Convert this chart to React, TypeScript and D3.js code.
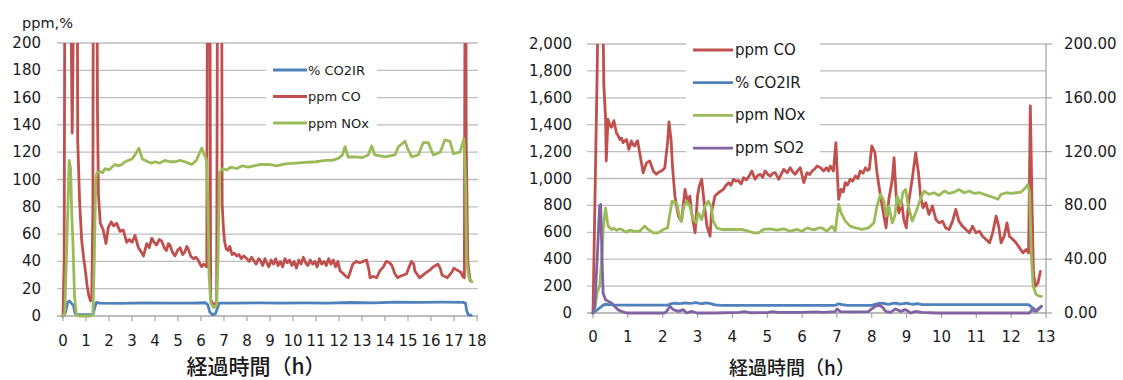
import React from "react";
import * as d3 from "d3";

type Pt = [number, number];

// ---------- Left chart: hours vs ppm / % ----------
const leftXTicks = d3.range(0, 19);
const leftYTicks = [0, 20, 40, 60, 80, 100, 120, 140, 160, 180, 200];

const leftCO2: Pt[] = [
  [0, 0], [0.1, 2], [0.2, 10], [0.28, 11], [0.38, 9], [0.45, 8], [0.52, 2], [0.6, 1], [1.0, 1], [1.3, 1],
  [1.38, 6], [1.45, 10], [1.6, 9.5], [2.5, 9.3], [3.5, 9.6], [4.5, 9.4], [5.5, 9.5], [6.2, 9.7], [6.3, 8],
  [6.38, 3], [6.5, 1], [6.62, 1.5], [6.72, 6], [6.8, 9.5], [7.5, 9.4], [8.5, 9.6], [9.5, 9.4], [10.5, 9.6],
  [11.5, 9.5], [12.5, 9.9], [13.5, 9.6], [14.5, 10.2], [15.5, 10], [16.5, 10.1], [17.4, 10], [17.5, 9.5],
  [17.55, 4], [17.62, 1], [17.75, 0.5],
];

const leftCO: Pt[] = [
  [0, 0], [0.05, 40], [0.1, 400], [0.32, 400], [0.36, 200], [0.4, 134], [0.44, 200], [0.47, 400], [0.6, 400],
  [0.64, 129], [0.72, 85], [0.81, 56], [0.9, 42], [0.96, 35], [1.05, 22], [1.12, 15], [1.2, 11], [1.25, 14],
  [1.3, 80], [1.33, 400], [1.44, 400], [1.5, 150], [1.54, 89], [1.62, 68], [1.75, 63], [1.87, 53], [1.97, 65],
  [2.1, 69], [2.2, 66], [2.33, 68], [2.48, 62], [2.62, 63], [2.77, 54], [2.88, 56], [3.0, 54], [3.13, 59],
  [3.28, 50], [3.4, 47], [3.5, 44], [3.64, 53], [3.75, 50], [3.86, 57], [3.96, 54], [4.07, 52], [4.18, 56],
  [4.29, 55], [4.4, 50], [4.5, 48], [4.58, 53], [4.65, 52], [4.75, 47], [4.87, 44], [4.98, 48], [5.09, 50],
  [5.2, 45], [5.3, 47], [5.38, 51], [5.45, 49], [5.55, 44], [5.67, 42], [5.78, 43], [5.88, 41], [5.96, 38],
  [6.03, 36], [6.1, 38], [6.17, 37], [6.25, 36], [6.3, 400], [6.37, 400], [6.42, 12], [6.55, 8], [6.68, 10],
  [6.74, 400], [6.88, 400], [6.92, 82], [6.98, 63], [7.03, 54], [7.1, 49], [7.18, 48], [7.25, 51], [7.35, 45],
  [7.45, 46], [7.55, 44], [7.65, 45], [7.75, 42], [7.85, 44], [7.99, 42], [8.1, 40], [8.2, 43], [8.28, 41],
  [8.4, 38], [8.5, 42], [8.57, 41], [8.68, 37], [8.78, 42], [8.86, 39], [8.95, 36], [9.05, 41], [9.15, 38],
  [9.25, 42], [9.35, 37], [9.45, 40], [9.55, 36], [9.65, 42], [9.75, 39], [9.85, 41], [9.95, 37], [10.05, 40],
  [10.15, 35], [10.25, 41], [10.35, 38], [10.45, 43], [10.55, 39], [10.65, 37], [10.75, 41], [10.85, 38],
  [10.95, 40], [11.05, 36], [11.15, 42], [11.25, 38], [11.35, 40], [11.45, 37], [11.55, 42], [11.65, 38],
  [11.75, 41], [11.85, 36], [11.95, 40], [12.05, 33], [12.19, 31], [12.3, 29], [12.4, 28], [12.5, 33],
  [12.6, 38], [12.75, 40], [12.9, 39], [13.05, 40], [13.2, 41], [13.3, 34], [13.35, 28], [13.5, 29],
  [13.64, 28], [13.77, 33], [13.93, 36], [14.05, 40], [14.2, 39], [14.3, 37], [14.43, 31], [14.55, 28],
  [14.65, 29], [14.8, 30], [14.94, 31], [15.05, 36], [15.15, 40], [15.25, 38], [15.3, 33], [15.42, 30],
  [15.5, 28], [15.65, 30], [15.8, 32], [15.9, 33], [16.1, 36], [16.2, 37], [16.3, 38], [16.4, 35],
  [16.48, 30], [16.6, 29], [16.7, 28], [16.8, 30], [16.9, 32], [17.0, 35], [17.1, 34], [17.2, 33], [17.3, 32],
  [17.38, 29], [17.45, 28], [17.5, 400], [17.53, 130], [17.6, 40], [17.7, 26],
];

const leftNOx: Pt[] = [
  [0, 0], [0.08, 2], [0.18, 60], [0.27, 114], [0.33, 108], [0.38, 75], [0.44, 50], [0.5, 15], [0.58, 1],
  [0.7, 0], [1.2, 0], [1.3, 1], [1.36, 40], [1.42, 100], [1.48, 105], [1.6, 106], [1.72, 105], [1.83, 108],
  [2.0, 107], [2.12, 109], [2.26, 111], [2.4, 110], [2.55, 111], [2.7, 113], [2.84, 114], [3.0, 115],
  [3.13, 118], [3.3, 123], [3.45, 115], [3.7, 113], [3.85, 112], [4.0, 113], [4.2, 112], [4.43, 114],
  [4.65, 113], [4.87, 113], [5.1, 114], [5.3, 113], [5.45, 112], [5.6, 111], [5.8, 114], [5.95, 120],
  [6.03, 123], [6.15, 118], [6.25, 114], [6.3, 80], [6.35, 30], [6.42, 10], [6.55, 6], [6.68, 8], [6.74, 40],
  [6.8, 105], [6.95, 108], [7.1, 107], [7.3, 109], [7.55, 108], [7.8, 110], [8.05, 109], [8.3, 110],
  [8.6, 111], [8.96, 111], [9.3, 110], [9.65, 111.5], [10.1, 112], [10.52, 112.5], [11.0, 113], [11.4, 114],
  [11.7, 114], [11.97, 115.5], [12.15, 118], [12.26, 124], [12.4, 116.5], [12.7, 116.5], [13.0, 116],
  [13.27, 118], [13.42, 124.5], [13.56, 118], [14.0, 116.5], [14.43, 118], [14.58, 124], [14.87, 128],
  [15.0, 122], [15.16, 116.5], [15.45, 118], [15.66, 127], [15.88, 127], [16.1, 118], [16.4, 120],
  [16.6, 129], [16.83, 128], [16.97, 119], [17.26, 120], [17.43, 130], [17.5, 100], [17.55, 40],
  [17.65, 28], [17.78, 25],
];

// ---------- Right chart: hours vs ppm (left axis) and % (right axis) ----------
const rightXTicks = d3.range(0, 14);
const rightYTicks = [0, 200, 400, 600, 800, 1000, 1200, 1400, 1600, 1800, 2000];
const rightY2Ticks = [0, 40, 80, 120, 160, 200];

const rightCO: Pt[] = [
  [0, 0], [0.04, 600], [0.08, 1200], [0.12, 1800], [0.15, 2400], [0.28, 2400], [0.31, 1700], [0.36, 1453],
  [0.38, 1130], [0.43, 1440], [0.48, 1400], [0.53, 1380], [0.6, 1430], [0.67, 1340], [0.72, 1320],
  [0.77, 1290], [0.82, 1300], [0.86, 1267], [0.96, 1290], [1.03, 1217], [1.1, 1280], [1.15, 1250],
  [1.2, 1242], [1.24, 1270], [1.28, 1280], [1.34, 1192], [1.44, 1043], [1.5, 1090], [1.54, 1118],
  [1.63, 1130], [1.73, 1056], [1.82, 1031], [1.9, 1050], [1.97, 1056], [2.06, 1080], [2.14, 1267],
  [2.18, 1420], [2.24, 1290], [2.28, 1093], [2.35, 870], [2.45, 720], [2.54, 683], [2.64, 919], [2.72, 820],
  [2.78, 870], [2.83, 745], [2.93, 596], [3.0, 870], [3.05, 944], [3.12, 994], [3.2, 795], [3.27, 646],
  [3.36, 571], [3.4, 745], [3.5, 870], [3.6, 894], [3.74, 919], [3.82, 950], [3.89, 969], [3.96, 950],
  [4.03, 994], [4.1, 980], [4.17, 985], [4.25, 960], [4.32, 1006], [4.4, 990], [4.46, 1010], [4.56, 1056],
  [4.65, 994], [4.72, 1020], [4.8, 1031], [4.87, 1010], [4.94, 1056], [5.02, 1030], [5.09, 1018],
  [5.16, 1040], [5.23, 1043], [5.33, 994], [5.4, 1030], [5.47, 1068], [5.57, 1043], [5.66, 1080],
  [5.73, 1050], [5.8, 1031], [5.88, 1060], [5.95, 1080], [6.05, 969], [6.14, 1043], [6.22, 1030],
  [6.29, 1056], [6.36, 1070], [6.43, 1093], [6.53, 1080], [6.62, 1056], [6.7, 1080], [6.76, 1056],
  [6.81, 1093], [6.9, 1056], [6.97, 1267], [7.0, 1093], [7.05, 845], [7.12, 919], [7.18, 900], [7.24, 969],
  [7.3, 950], [7.38, 994], [7.45, 980], [7.53, 1018], [7.6, 1000], [7.67, 1056], [7.75, 1040], [7.82, 1080],
  [7.88, 1060], [7.93, 1068], [8.0, 1242], [8.09, 1192], [8.15, 1043], [8.25, 870], [8.35, 720],
  [8.41, 633], [8.49, 845], [8.59, 994], [8.64, 1155], [8.7, 870], [8.78, 745], [8.86, 820], [8.92, 695],
  [8.99, 633], [9.07, 845], [9.16, 994], [9.26, 1192], [9.34, 1043], [9.4, 870], [9.47, 782], [9.55, 820],
  [9.64, 733], [9.74, 795], [9.84, 695], [9.93, 670], [10.03, 683], [10.12, 633], [10.22, 621],
  [10.32, 683], [10.41, 770], [10.5, 683], [10.6, 646], [10.7, 621], [10.8, 596], [10.89, 646],
  [10.99, 596], [11.09, 608], [11.18, 571], [11.28, 546], [11.38, 522], [11.47, 596], [11.57, 720],
  [11.64, 646], [11.71, 522], [11.8, 571], [11.88, 670], [11.95, 571], [12.05, 546], [12.14, 522],
  [12.24, 484], [12.34, 447], [12.43, 472], [12.5, 447], [12.55, 1540], [12.6, 800], [12.64, 298],
  [12.7, 199], [12.77, 224], [12.84, 310],
];

// CO2 in percent, read against the right-hand axis
const rightCO2: Pt[] = [
  [0, 0], [0.1, 2], [0.25, 5], [0.34, 6.5], [0.45, 6.2], [0.6, 6], [1.0, 5.8], [1.5, 5.8], [2.0, 5.8],
  [2.15, 5.9], [2.25, 7], [2.35, 7.4], [2.45, 7], [2.55, 7.2], [2.65, 7.6], [2.75, 7.1], [2.85, 7.3],
  [2.95, 7.8], [3.05, 7.2], [3.15, 6.9], [3.25, 7.5], [3.35, 7.2], [3.5, 6], [3.7, 5.7], [4.5, 5.6],
  [5.5, 5.6], [6.5, 5.6], [6.95, 5.7], [7.05, 6.8], [7.15, 6.2], [7.3, 5.7], [8.0, 5.7], [8.1, 6.5],
  [8.2, 7.2], [8.3, 7.4], [8.4, 6.8], [8.5, 6.4], [8.6, 7.1], [8.7, 7.3], [8.8, 6.6], [8.9, 6.9], [9.0, 7.3],
  [9.1, 6.8], [9.2, 6.5], [9.3, 7.0], [9.45, 6.3], [10.0, 6.2], [11.0, 6.3], [12.0, 6.2], [12.5, 6.2],
  [12.58, 4.5], [12.65, 1.5], [12.75, 2.5], [12.85, 4.5],
];

const rightNOx: Pt[] = [
  [0, 0], [0.05, 30], [0.12, 150], [0.19, 200], [0.25, 400], [0.3, 650], [0.36, 782], [0.43, 646],
  [0.53, 621], [0.6, 630], [0.67, 615], [0.75, 625], [0.82, 621], [0.9, 610], [0.96, 601], [1.03, 615],
  [1.1, 616], [1.18, 605], [1.25, 608], [1.34, 608], [1.42, 630], [1.49, 646], [1.58, 621], [1.65, 610],
  [1.73, 596], [1.87, 596], [2.02, 621], [2.14, 633], [2.21, 745], [2.27, 832], [2.4, 820], [2.48, 720],
  [2.54, 683], [2.61, 794], [2.69, 832], [2.78, 794], [2.88, 695], [2.96, 670], [3.02, 745], [3.12, 695],
  [3.21, 794], [3.31, 832], [3.39, 794], [3.45, 683], [3.55, 633], [3.69, 621], [3.89, 621], [4.08, 621],
  [4.27, 621], [4.46, 608], [4.61, 596], [4.75, 596], [4.89, 621], [5.09, 626], [5.28, 616], [5.47, 626],
  [5.66, 608], [5.85, 621], [6.0, 608], [6.14, 633], [6.29, 621], [6.38, 621], [6.48, 633], [6.57, 633],
  [6.71, 608], [6.86, 646], [6.95, 608], [7.05, 807], [7.12, 745], [7.24, 683], [7.38, 646], [7.53, 633],
  [7.72, 621], [7.91, 633], [8.06, 670], [8.15, 795], [8.25, 882], [8.35, 832], [8.41, 720], [8.49, 795],
  [8.59, 670], [8.66, 720], [8.73, 869], [8.83, 795], [8.89, 894], [8.97, 919], [9.05, 795], [9.16, 683],
  [9.26, 745], [9.36, 820], [9.43, 869], [9.51, 907], [9.64, 882], [9.79, 894], [9.93, 874], [10.08, 907],
  [10.22, 889], [10.37, 899], [10.5, 919], [10.65, 894], [10.8, 907], [10.94, 889], [11.09, 894],
  [11.23, 882], [11.38, 869], [11.52, 857], [11.62, 845], [11.71, 882], [11.86, 894], [12.0, 889],
  [12.14, 894], [12.29, 899], [12.41, 931], [12.48, 956], [12.53, 894], [12.58, 422], [12.63, 199],
  [12.72, 137], [12.82, 124], [12.87, 124],
];

const rightSO2: Pt[] = [
  [0, 0], [0.05, 50], [0.12, 400], [0.19, 795], [0.22, 807], [0.26, 400], [0.29, 149], [0.36, 99],
  [0.43, 88], [0.53, 75], [0.62, 50], [0.72, 25], [0.82, 12], [0.96, 0], [1.5, 0], [2.05, 0], [2.11, 12],
  [2.21, 50], [2.3, 25], [2.45, 12], [2.59, 25], [2.69, 0], [2.83, 12], [2.98, 0], [3.5, 0], [4.2, 5],
  [4.35, 10], [4.5, 2], [5.0, 3], [5.15, 10], [5.3, 4], [6.0, 5], [6.4, 8], [6.6, 5], [6.95, 10], [7.0, 30],
  [7.1, 10], [7.5, 8], [7.9, 10], [8.0, 30], [8.1, 50], [8.2, 60], [8.3, 45], [8.4, 12], [8.54, 5],
  [8.68, 30], [8.83, 12], [8.97, 25], [9.12, 0], [9.26, 12], [9.45, 5], [9.84, 0], [12.53, 0], [12.63, 37],
  [12.72, 12], [12.87, 50],
];

const COLORS = {
  co2: "#4F81BD",
  co: "#C0504D",
  nox: "#9BBB59",
  so2: "#8064A2",
};

const GRID = "#BDBDBD";
const AXIS = "#A6A6A6";
const TEXT = "#1a1a1a";
const NUM_FONT = "'DejaVu Sans', sans-serif";
const JP_FONT = "'Noto Sans CJK JP', sans-serif";

function LeftChart() {
  const x = d3.scaleLinear().domain([0, 18]).range([63, 477]);
  const y = d3.scaleLinear().domain([0, 200]).range([316, 43]);
  const line = d3.line<Pt>().x((d) => x(d[0])).y((d) => y(d[1]));
  const series = [
    { name: "% CO2IR", data: leftCO2, color: COLORS.co2 },
    { name: "ppm CO", data: leftCO, color: COLORS.co },
    { name: "ppm NOx", data: leftNOx, color: COLORS.nox },
  ];
  return (
    <g>
      <defs>
        <clipPath id="clipL">
          <rect x={55} y={y(200)} width={440} height={y(0) - y(200) + 6} />
        </clipPath>
      </defs>
      {leftYTicks.filter((v) => v > 0).map((v) => (
        <line key={v} x1={57} x2={478} y1={y(v)} y2={y(v)} stroke={GRID} strokeWidth={1.3} />
      ))}
      <line x1={57} x2={478} y1={y(0)} y2={y(0)} stroke={AXIS} strokeWidth={1.3} />
      {leftXTicks.map((t) => (
        <line key={t} x1={x(t)} x2={x(t)} y1={y(0)} y2={y(0) + 5} stroke={AXIS} strokeWidth={1.2} />
      ))}
      {leftYTicks.map((v) => (
        <text key={v} x={41} y={y(v)} textAnchor="end" dominantBaseline="central"
          fontFamily={NUM_FONT} fontSize={15} fill={TEXT}>{v}</text>
      ))}
      {leftXTicks.map((t) => (
        <text key={t} x={x(t)} y={341} textAnchor="middle" dominantBaseline="central"
          fontFamily={NUM_FONT} fontSize={15} fill={TEXT}>{t}</text>
      ))}
      <text x={22} y={23} dominantBaseline="central" fontFamily={NUM_FONT} fontSize={14.5} fill={TEXT}>ppm,%</text>
      <g clipPath="url(#clipL)">
        {series.map((s) => (
          <path key={s.name} d={line(s.data) || ""} fill="none" stroke={s.color} strokeWidth={2.8}
            strokeLinejoin="round" strokeLinecap="round" />
        ))}
      </g>
      <rect x={266} y={58} width={111} height={78} fill="#fff" />
      {series.map((s, i) => (
        <g key={s.name}>
          <line x1={273} x2={307} y1={70 + i * 26.5} y2={70 + i * 26.5} stroke={s.color} strokeWidth={2.8} />
          <text x={308} y={70 + i * 26.5} dominantBaseline="central" fontFamily={NUM_FONT} fontSize={13}
            fill={TEXT}>{s.name}</text>
        </g>
      ))}
      <text x={256} y={365} textAnchor="middle" dominantBaseline="central" fontFamily={JP_FONT}
        fontSize={21} fontWeight={500} fill={TEXT}>経過時間（h）</text>
    </g>
  );
}

function RightChart() {
  const x = d3.scaleLinear().domain([0, 13]).range([593, 1046]);
  const y = d3.scaleLinear().domain([0, 2000]).range([313, 44]);
  const y2 = d3.scaleLinear().domain([0, 200]).range([313, 44]);
  const lineL = d3.line<Pt>().x((d) => x(d[0])).y((d) => y(d[1]));
  const lineR = d3.line<Pt>().x((d) => x(d[0])).y((d) => y2(d[1]));
  const series = [
    { name: "ppm CO", d: lineL(rightCO), color: COLORS.co },
    { name: "% CO2IR", d: lineR(rightCO2), color: COLORS.co2 },
    { name: "ppm NOx", d: lineL(rightNOx), color: COLORS.nox },
    { name: "ppm SO2", d: lineL(rightSO2), color: COLORS.so2 },
  ];
  const fmt = d3.format(",");
  const fmt2 = d3.format(".2f");
  return (
    <g>
      <defs>
        <clipPath id="clipR">
          <rect x={585} y={y(2000)} width={470} height={y(0) - y(2000) + 6} />
        </clipPath>
      </defs>
      {rightYTicks.filter((v) => v > 0).map((v) => (
        <line key={v} x1={587} x2={1046} y1={y(v)} y2={y(v)} stroke={GRID} strokeWidth={1.3} />
      ))}
      <line x1={587} x2={1046} y1={y(0)} y2={y(0)} stroke={AXIS} strokeWidth={1.3} />
      <line x1={1046} x2={1046} y1={y(2000)} y2={y(0)} stroke={AXIS} strokeWidth={1.3} />
      {rightY2Ticks.map((v) => (
        <line key={v} x1={1046} x2={1052} y1={y2(v)} y2={y2(v)} stroke={AXIS} strokeWidth={1.2} />
      ))}
      {rightXTicks.map((t) => (
        <line key={t} x1={x(t)} x2={x(t)} y1={y(0)} y2={y(0) + 5} stroke={AXIS} strokeWidth={1.2} />
      ))}
      {rightYTicks.map((v) => (
        <text key={v} x={572} y={y(v)} textAnchor="end" dominantBaseline="central"
          fontFamily={NUM_FONT} fontSize={15} fill={TEXT}>{fmt(v)}</text>
      ))}
      {rightY2Ticks.map((v) => (
        <text key={v} x={1064} y={y2(v)} dominantBaseline="central"
          fontFamily={NUM_FONT} fontSize={15} fill={TEXT}>{fmt2(v)}</text>
      ))}
      {rightXTicks.map((t) => (
        <text key={t} x={x(t)} y={337} textAnchor="middle" dominantBaseline="central"
          fontFamily={NUM_FONT} fontSize={15} fill={TEXT}>{t}</text>
      ))}
      <g clipPath="url(#clipR)">
        {series.map((s) => (
          <path key={s.name} d={s.d || ""} fill="none" stroke={s.color} strokeWidth={2.8}
            strokeLinejoin="round" strokeLinecap="round" />
        ))}
      </g>
      <rect x={686} y={34} width={134} height={130} fill="#fff" />
      {series.map((s, i) => (
        <g key={s.name}>
          <line x1={693} x2={733} y1={50 + i * 32.7} y2={50 + i * 32.7} stroke={s.color} strokeWidth={2.8} />
          <text x={735} y={50 + i * 32.7} dominantBaseline="central" fontFamily={NUM_FONT} fontSize={15}
            fill={TEXT}>{s.name}</text>
        </g>
      ))}
      <text x={792} y={366} textAnchor="middle" dominantBaseline="central" fontFamily={JP_FONT}
        fontSize={19} fontWeight={500} fill={TEXT}>経過時間（h）</text>
    </g>
  );
}

export default function App() {
  return (
    <svg width={1123} height={380} style={{ position: "absolute", left: 0, top: 0, background: "#fff" }}>
      <rect x={0} y={0} width={1123} height={380} fill="#fff" />
      <LeftChart />
      <RightChart />
    </svg>
  );
}
